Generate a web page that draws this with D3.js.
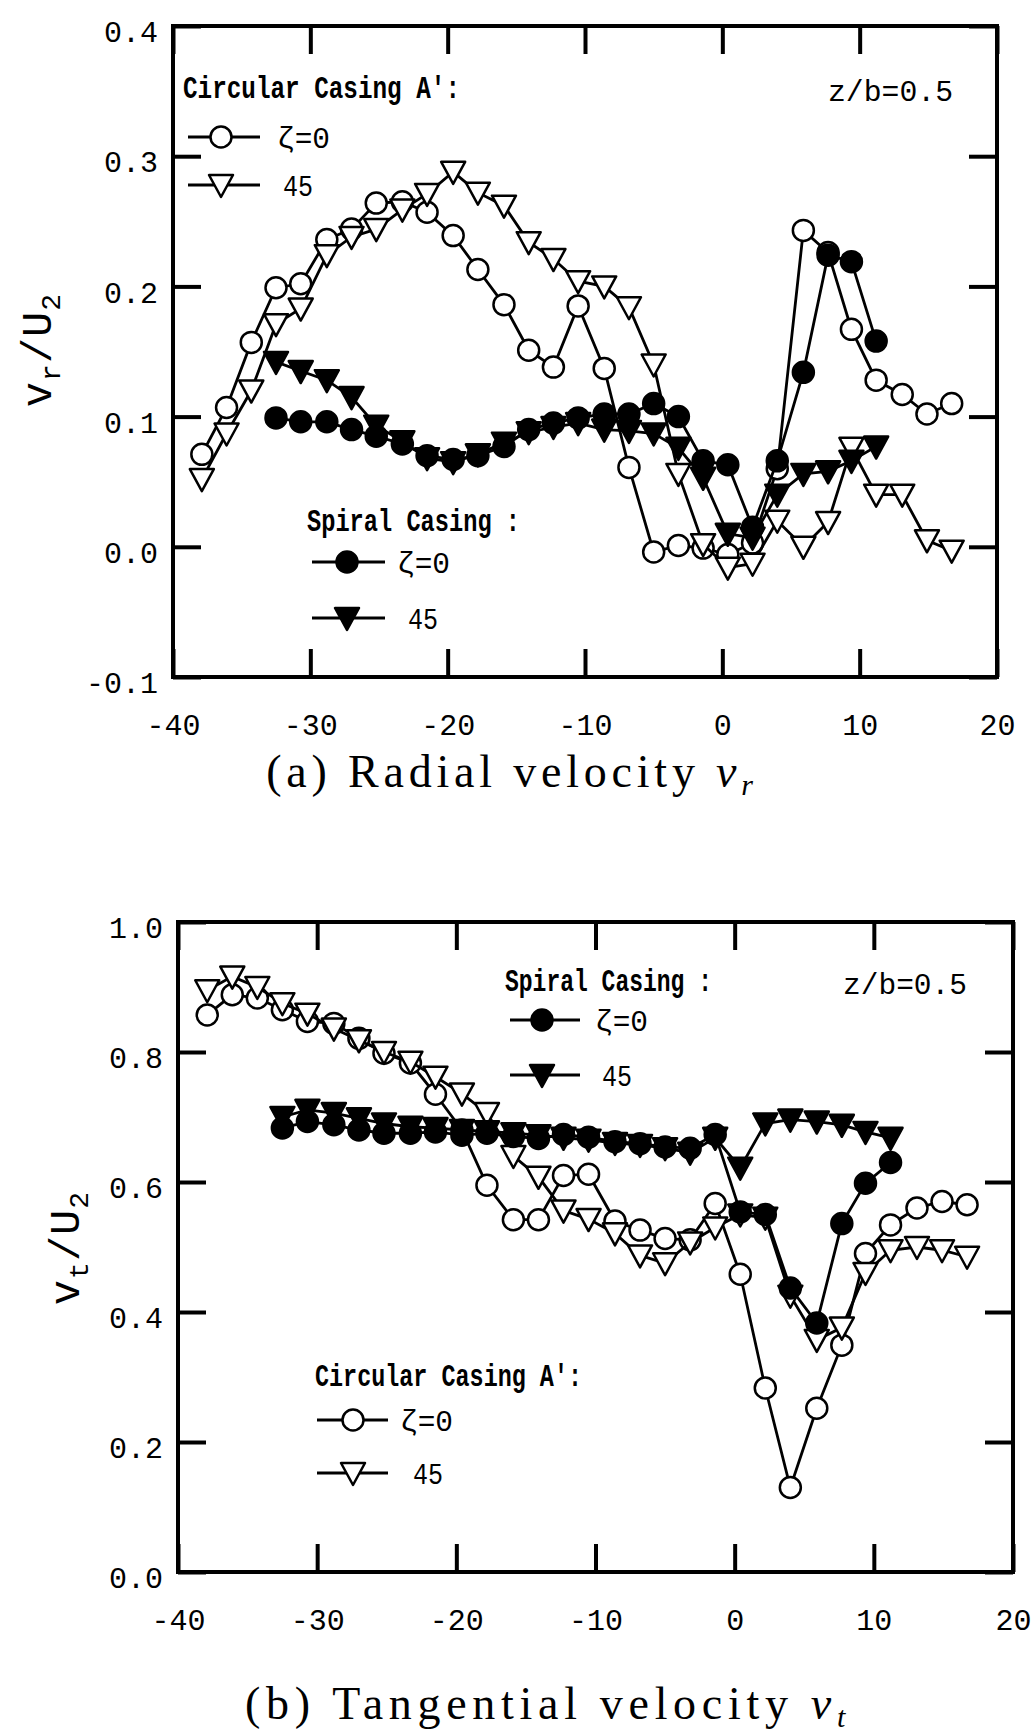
<!DOCTYPE html>
<html><head><meta charset="utf-8">
<script src="https://cdn.jsdelivr.net/npm/d3@7"></script>
<style>body{margin:0;background:#fff;} svg{display:block}</style>
</head><body>
<svg id="c" width="1033" height="1733"></svg>
<script>
// ---------- data ----------
const xTickVals = [-40, -30, -20, -10, 0, 10, 20];
const yTicksA = [-0.1, 0.0, 0.1, 0.2, 0.3, 0.4];
const yTicksB = [0.0, 0.2, 0.4, 0.6, 0.8, 1.0];

// circumferential positions (deg)
const xCirc = [-37.9,-36.1,-34.3,-32.5,-30.7,-28.8,-27.0,-25.2,-23.3,-21.5,-19.6,-17.8,-15.9,-14.1,-12.3,-10.5,-8.6,-6.8,-5.0,-3.2,-1.4,0.4,2.2,4.0,5.9,7.7,9.4,11.2,13.1,14.9,16.7];
const xSpir = [-32.5,-30.7,-28.8,-27.0,-25.2,-23.3,-21.5,-19.6,-17.8,-15.9,-14.1,-12.3,-10.5,-8.6,-6.8,-5.0,-3.2,-1.4,0.4,2.2,4.0,5.9,7.7,9.4,11.2];

// (a) radial velocity vr/U2
const vrCirc0  = [0.071,0.107,0.157,0.199,0.202,0.236,0.244,0.264,0.265,0.257,0.239,0.213,0.186,0.151,0.138,0.185,0.137,0.061,-0.004,0.001,-0.001,-0.006,0.003,0.060,0.243,0.226,0.167,0.128,0.117,0.102,0.110];
const vrCirc45 = [0.052,0.087,0.120,0.171,0.183,0.224,0.238,0.244,0.259,0.271,0.288,0.272,0.262,0.234,0.221,0.204,0.200,0.184,0.140,0.056,0.002,-0.016,-0.013,0.020,0.000,0.019,0.076,0.040,0.040,0.005,-0.003];
const vrSpir0  = [0.099,0.096,0.096,0.090,0.085,0.079,0.070,0.067,0.070,0.077,0.090,0.095,0.099,0.102,0.102,0.110,0.100,0.066,0.063,0.015,0.066,0.134,0.224,0.219,0.158];
const vrSpir45 = [0.142,0.135,0.128,0.115,0.093,0.081,0.068,0.065,0.071,0.080,0.088,0.092,0.095,0.090,0.089,0.087,0.076,0.053,0.010,0.007,0.040,0.056,0.058,0.066,0.077];

// (b) tangential velocity vt/U2
const vtCirc0  = [0.857,0.888,0.883,0.865,0.847,0.844,0.821,0.798,0.783,0.735,0.680,0.595,0.542,0.542,0.610,0.612,0.540,0.526,0.513,0.511,0.567,0.458,0.283,0.130,0.252,0.349,0.490,0.534,0.560,0.570,0.565];
const vtCirc45 = [0.895,0.916,0.900,0.875,0.859,0.836,0.818,0.800,0.785,0.762,0.736,0.706,0.640,0.608,0.556,0.543,0.521,0.487,0.475,0.507,0.530,0.550,0.545,0.425,0.357,0.376,0.460,0.495,0.500,0.495,0.485];
const vtSpir0  = [0.683,0.693,0.688,0.680,0.675,0.675,0.677,0.672,0.675,0.670,0.667,0.673,0.669,0.662,0.659,0.654,0.652,0.673,0.554,0.550,0.437,0.383,0.536,0.598,0.630];
const vtSpir45 = [0.700,0.711,0.706,0.698,0.690,0.685,0.683,0.680,0.678,0.675,0.672,0.668,0.665,0.660,0.657,0.652,0.645,0.668,0.622,0.690,0.696,0.693,0.688,0.677,0.668];

// ---------- drawing ----------
const svg = d3.select('#c');
const MONO = '"Liberation Mono", "DejaVu Sans Mono", monospace';
const SERIF = '"Liberation Serif", "DejaVu Serif", serif';
const TRI = 'M-12,-10L12,-10L0,12Z';

function marker(sel, type, filled) {
  if (type === 'circle') {
    sel.append('circle').attr('r', 10.5)
      .attr('fill', filled ? '#000' : '#fff').attr('stroke', '#000').attr('stroke-width', 2.5);
  } else {
    sel.append('path').attr('d', TRI)
      .attr('fill', filled ? '#000' : '#fff').attr('stroke', '#000').attr('stroke-width', 2.5)
      .attr('stroke-linejoin', 'round');
  }
}

function panel(o) {
  const x = d3.scaleLinear().domain([-40, 20]).range([o.x0, o.x1]);
  const y = d3.scaleLinear().domain(o.yDomain).range([o.y1, o.y0]);
  const g = svg.append('g');
  const T = 28;
  const styleAxis = a => {
    a.select('.domain').remove();
    a.selectAll('.tick line').attr('stroke', '#000').attr('stroke-width', 4);
    a.selectAll('.tick text').attr('fill', '#000').attr('font-family', MONO).attr('font-size', 30);
  };
  // bottom
  g.append('g').attr('transform', `translate(0,${o.y1})`)
    .call(d3.axisBottom(x).tickValues(xTickVals).tickSizeInner(-T).tickSizeOuter(0).tickFormat(d => String(d)))
    .call(styleAxis)
    .call(a => a.selectAll('.tick text').attr('y', 47).attr('dy', '0.35em').attr('font-size', 30));
  // top
  g.append('g').attr('transform', `translate(0,${o.y0})`)
    .call(d3.axisTop(x).tickValues(xTickVals).tickSizeInner(-T).tickSizeOuter(0).tickFormat(''))
    .call(styleAxis);
  // left
  g.append('g').attr('transform', `translate(${o.x0},0)`)
    .call(d3.axisLeft(y).tickValues(o.yTicks).tickSizeInner(-T).tickSizeOuter(0).tickPadding(15).tickFormat(d => d.toFixed(1)))
    .call(styleAxis)
    .call(a => a.selectAll('.tick text').attr('dy', '0.52em'));
  // right
  g.append('g').attr('transform', `translate(${o.x1},0)`)
    .call(d3.axisRight(y).tickValues(o.yTicks).tickSizeInner(-T).tickSizeOuter(0).tickFormat(''))
    .call(styleAxis);
  // frame
  g.append('rect').attr('x', o.x0).attr('y', o.y0).attr('width', o.x1 - o.x0).attr('height', o.y1 - o.y0)
    .attr('fill', 'none').attr('stroke', '#000').attr('stroke-width', 4);

  const line = d3.line().x(d => x(d[0])).y(d => y(d[1]));
  o.series.forEach(s => {
    const pts = s.xs.map((v, i) => [v, s.ys[i]]);
    g.append('path').attr('d', line(pts)).attr('fill', 'none').attr('stroke', '#000').attr('stroke-width', 2.8);
    g.selectAll(null).data(pts).enter().append('g')
      .attr('transform', d => `translate(${x(d[0])},${y(d[1])})`)
      .each(function () { marker(d3.select(this), s.type, s.filled); });
  });
  return g;
}

function legText(g, x, y, txt, len, size) {
  return g.append('text').attr('x', x).attr('y', y).attr('dy', '0.35em')
    .attr('font-family', MONO).attr('font-size', size || 30).attr('font-weight', 'bold')
    .attr('textLength', len).attr('lengthAdjust', 'spacingAndGlyphs').text(txt);
}
function legRow(g, x0, x1, xm, y, type, filled, tx, txt, len) {
  g.append('line').attr('x1', x0).attr('x2', x1).attr('y1', y).attr('y2', y)
    .attr('stroke', '#000').attr('stroke-width', 3);
  marker(g.append('g').attr('transform', `translate(${xm},${y})`), type, filled);
  legText(g, tx, y, txt, len, 30).attr('font-weight', 'normal');
}

// ---- panel (a)
const gA = panel({
  x0: 173, x1: 997, y0: 26, y1: 677, yDomain: [-0.1, 0.4], yTicks: yTicksA,
  series: [
    {xs: xCirc, ys: vrCirc0, type: 'circle', filled: false},
    {xs: xCirc, ys: vrCirc45, type: 'tri', filled: false},
    {xs: xSpir, ys: vrSpir45, type: 'tri', filled: true},
    {xs: xSpir, ys: vrSpir0, type: 'circle', filled: true}
  ]
});
legText(gA, 183, 87, "Circular Casing A':", 277, 32);
legRow(gA, 188, 260, 221, 137, 'circle', false, 277, 'ζ=0', 53);
legRow(gA, 188, 260, 221, 185, 'tri', false, 283, '45', 30);
legText(gA, 307, 520, 'Spiral Casing :', 213, 32);
legRow(gA, 312, 385, 347, 562, 'circle', true, 397, 'ζ=0', 53);
legRow(gA, 312, 385, 347, 618, 'tri', true, 408, '45', 30);
legText(gA, 828, 90, 'z/b=0.5', 125, 30).attr('font-weight', 'normal');

// ---- panel (b)
const gB = panel({
  x0: 178, x1: 1013, y0: 922, y1: 1572, yDomain: [0, 1.0], yTicks: yTicksB,
  series: [
    {xs: xCirc, ys: vtCirc0, type: 'circle', filled: false},
    {xs: xCirc, ys: vtCirc45, type: 'tri', filled: false},
    {xs: xSpir, ys: vtSpir45, type: 'tri', filled: true},
    {xs: xSpir, ys: vtSpir0, type: 'circle', filled: true}
  ]
});
legText(gB, 505, 980, 'Spiral Casing :', 207, 32);
legRow(gB, 510, 580, 542, 1020, 'circle', true, 595, 'ζ=0', 53);
legRow(gB, 510, 580, 542, 1075, 'tri', true, 602, '45', 30);
legText(gB, 843, 983, 'z/b=0.5', 124, 30).attr('font-weight', 'normal');
legText(gB, 315, 1375, "Circular Casing A':", 267, 32);
legRow(gB, 317, 388, 353, 1420, 'circle', false, 400, 'ζ=0', 53);
legRow(gB, 317, 388, 353, 1473, 'tri', false, 413, '45', 30);

// ---- axis titles
function yTitle(cx, cy, sub) {
  const t = svg.append('text').attr('transform', `translate(${cx},${cy}) rotate(-90)`)
    .attr('text-anchor', 'middle').attr('font-family', MONO).attr('font-size', 42)
    .attr('letter-spacing', 1).attr('dy', '0.35em');
  t.append('tspan').text('v');
  t.append('tspan').attr('font-size', 28).attr('dy', 9).text(sub);
  t.append('tspan').attr('dy', -9).text('/U');
  t.append('tspan').attr('font-size', 28).attr('dy', 9).text('2');
}
yTitle(36, 350, 'r');
yTitle(64, 1248, 't');

// ---- captions
function caption(cx, cy, lead, sub, ls) {
  const t = svg.append('text').attr('x', cx).attr('y', cy).attr('text-anchor', 'middle')
    .attr('dy', '0.35em').attr('font-family', SERIF).attr('font-size', 46).attr('letter-spacing', ls);
  t.append('tspan').text(lead);
  t.append('tspan').attr('font-style', 'italic').text('v');
  t.append('tspan').attr('font-style', 'italic').attr('font-size', 30).attr('dy', 8).text(sub);
}
caption(512, 771, '(a) Radial velocity ', 'r', 4.8);
caption(548, 1703, '(b) Tangential velocity ', 't', 5.7);
</script>
</body></html>
